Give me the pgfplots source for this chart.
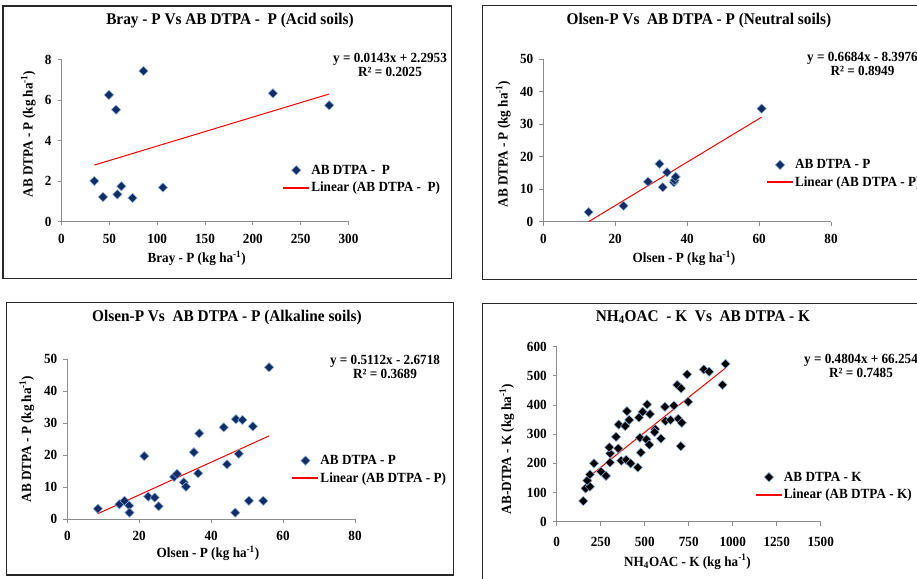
\documentclass[border=0pt]{standalone}
\usepackage{fontspec}
\setmainfont{Liberation Serif}[FakeStretch=0.94]
\usepackage{pgfplots}
\pgfplotsset{compat=1.18}

\definecolor{navy}{RGB}{16,45,102}
\definecolor{mkedge}{RGB}{140,175,225}
\definecolor{axgray}{RGB}{140,140,140}
\definecolor{framec}{RGB}{40,40,40}
\definecolor{trendc}{RGB}{255,0,0}

\newcommand{\bsize}{\fontsize{14}{16}\selectfont\bfseries}
\newcommand{\eqsize}{\fontsize{14}{14.5}\selectfont\bfseries}

\pgfplotsset{
  panel/.style={
    scale only axis, enlargelimits=false, clip=false, anchor=south west,
    axis x line=bottom, axis y line=left,
    axis line style={axgray, line width=1pt, -},
    every outer x axis line/.append style={-},
    every outer y axis line/.append style={-},
    tick style={axgray, line width=0.8pt},
    tick align=outside, major tick length=4pt,
    tick label style={font=\bsize},
    xticklabel style={yshift=-5pt},
    yticklabel style={xshift=-2.5pt},
    /pgf/number format/assume math mode=true,
    /pgf/number format/1000 sep={},
    label style={font=\bsize},
    title style={font=\fontsize{16.3}{18}\selectfont\bfseries, anchor=center},
    xlabel style={anchor=center},
    ylabel style={anchor=center},
    legend style={draw=none, fill=none, font=\bsize, inner sep=0pt,
      anchor=west, row sep=2.5pt},
    legend cell align=left,
    legend image code/.code={\draw[mark repeat=2,mark phase=2,##1]
      plot coordinates {(0pt,0pt) (12.5pt,0pt) (25pt,0pt)};},
  },
  pts/.style={only marks, mark=square*, mark size=3.3pt,
    mark options={rotate=45, fill=navy, draw=mkedge, line width=0.5pt}},
  ptsk/.style={only marks, mark=square*, mark size=3.3pt,
    mark options={rotate=45, fill=black, draw=mkedge, line width=0.5pt}},
  trendred/.style={draw=trendc, line width=1pt, mark=none,
    legend image code/.code={\fill[trendc] (0pt,-0.5pt) rectangle (25pt,0.5pt);}},
}

\begin{document}
\begin{tikzpicture}[x=1pt,y=1pt]
\useasboundingbox (0,0) rectangle (917,578);
\clip (0,0) rectangle (917,578);

% frames
\draw[framec, line width=1.2pt] (3,572) rectangle (451.7,299.7);
\draw[framec, line width=1.2pt] (482.7,572.3) rectangle (940,298.7);
\draw[framec, line width=1.2pt] (6.7,275.7) rectangle (453.3,3);
\draw[framec, line width=1.2pt] (482.7,274.7) rectangle (940,-12);

% acid soils
\begin{axis}[panel, at={(61.5pt,356.5pt)}, width=287pt, height=162pt,
  xmin=0, xmax=300, ymin=0, ymax=8,
  xtick={0,50,...,300}, ytick={0,2,...,8},
  title={Bray - P Vs AB DTPA -\ \ P (Acid soils)},
  title style={at={(axis description cs:0.587,1.2025)}},
  xlabel={Bray - P (kg ha\textsuperscript{-1})},
  xlabel style={at={(axis description cs:0.471,-0.227)}},
  ylabel={AB DTPA - P (kg ha\textsuperscript{-1})},
  ylabel style={at={(axis description cs:-0.1157,0.540)}},
  legend style={at={(axis description cs:0.772,0.262)}}]
\addplot[pts] coordinates {
  (85.7,7.43) (49.6,6.25) (57.0,5.52) (221.0,6.33) (279.8,5.74)
  (34.3,2.00) (43.4,1.21) (62.6,1.74) (58.4,1.34) (74.2,1.16) (106.0,1.68)};
\addlegendentry{AB DTPA -\ \ P}
\addplot[trendred] coordinates {(34.3,2.786) (279.8,6.296)};
\addlegendentry{Linear (AB DTPA -\ \ P)}
\end{axis}
\node[font=\eqsize, align=center] at (390,513) {y = 0.0143x + 2.2953\\R² = 0.2025};

% neutral soils
\begin{axis}[panel, at={(543.3pt,356.3pt)}, width=287.7pt, height=162.4pt,
  xmin=0, xmax=80, ymin=0, ymax=50,
  xtick={0,20,...,80}, ytick={0,10,...,50},
  title={Olsen-P Vs\ \ AB DTPA - P (Neutral soils)},
  title style={at={(axis description cs:0.541,1.2007)}},
  xlabel={Olsen - P (kg ha\textsuperscript{-1})},
  xlabel style={at={(axis description cs:0.489,-0.2254)}},
  ylabel={AB DTPA - P (kg ha\textsuperscript{-1})},
  ylabel style={at={(axis description cs:-0.139,0.478)}},
  legend style={at={(axis description cs:0.777,0.295)}}]
\addplot[pts] coordinates {
  (12.6,2.97) (22.3,4.9) (29.1,12.3) (32.3,17.8) (34.4,15.2)
  (33.2,10.6) (36.3,12.1) (36.5,12.7) (36.8,13.8) (60.7,34.8)};
\addlegendentry{AB DTPA - P}
\addplot[trendred] coordinates {(12.6,0.024) (60.7,32.175)};
\addlegendentry{Linear (AB DTPA - P)}
\end{axis}
\node[font=\eqsize, align=center] at (862.5,514) {y = 0.6684x - 8.3976\\R² = 0.8949};

% alkaline soils
\begin{axis}[panel, at={(67.3pt,59pt)}, width=287.7pt, height=159.7pt,
  xmin=0, xmax=80, ymin=0, ymax=50,
  xtick={0,20,...,80}, ytick={0,10,...,50},
  title={Olsen-P Vs\ \ AB DTPA - P (Alkaline soils)},
  title style={at={(axis description cs:0.555,1.2254)}},
  xlabel={Olsen - P (kg ha\textsuperscript{-1})},
  xlabel style={at={(axis description cs:0.489,-0.2148)}},
  ylabel={AB DTPA - P (kg ha\textsuperscript{-1})},
  ylabel style={at={(axis description cs:-0.141,0.501)}},
  legend style={at={(axis description cs:0.782,0.310)}}]
\addplot[pts] coordinates {
  (8.5,3.2) (14.5,4.6) (15.9,5.7) (17.2,4.2) (17.3,2.0) (22.5,7.0)
  (24.3,6.7) (25.4,4.0) (21.4,19.7) (29.7,13.2) (30.5,14.1) (32.4,11.5)
  (33.0,10.1) (35.2,20.9) (36.7,26.8) (36.4,14.3) (43.5,28.7) (44.4,17.1)
  (46.7,2.0) (46.9,31.25) (48.7,31.0) (47.7,20.4) (51.6,29.0) (50.5,5.7)
  (54.5,5.7) (56.1,47.5)};
\addlegendentry{AB DTPA - P}
\addplot[trendred] coordinates {(8.5,1.673) (56.1,26.007)};
\addlegendentry{Linear (AB DTPA - P)}
\end{axis}
\node[font=\eqsize, align=center] at (385,211) {y = 0.5112x - 2.6718\\R² = 0.3689};

% potassium
\begin{axis}[panel, at={(556.7pt,56.3pt)}, width=264pt, height=175pt,
  xmin=0, xmax=1500, ymin=0, ymax=600,
  xtick={0,250,...,1500}, ytick={0,100,...,600},
  xticklabel style={yshift=-3pt},
  title={NH\textsubscript{4}OAC\ \ - K\ \ Vs\ \ AB DTPA - K},
  title style={at={(axis description cs:0.554,1.1337)}},
  xlabel={NH\textsubscript{4}OAC - K (kg ha\textsuperscript{-1})},
  xlabel style={at={(axis description cs:0.4955,-0.2286)}},
  ylabel={AB-DTPA - K (kg ha\textsuperscript{-1})},
  ylabel style={at={(axis description cs:-0.189,0.4154)}},
  legend style={at={(axis description cs:0.754,0.204)}}]
\addplot[ptsk] coordinates {
  (151,71) (164,114) (189,120) (174,141) (189,162) (212,200) (251,172)
  (280,157) (303,203) (304,234) (299,255) (350,251) (337,291) (352,333)
  (367,209) (395,212) (389,328) (399,379) (412,349) (420,200) (461,186)
  (478,237) (473,288) (467,357) (488,377) (514,402) (530,369) (510,282)
  (526,264) (560,317) (556,307) (592,285) (615,394) (618,345) (647,349)
  (666,398) (685,469) (707,457) (691,353) (711,339) (705,259) (741,505)
  (747,411) (836,522) (866,514) (942,469) (959,541)};
\addlegendentry{AB DTPA - K}
\addplot[trendred] coordinates {(151,138.79) (959,526.96)};
\addlegendentry{Linear (AB DTPA - K)}
\end{axis}
\node[font=\eqsize, align=center] at (861,212) {y = 0.4804x + 66.254\\R² = 0.7485};
\end{tikzpicture}
\end{document}
